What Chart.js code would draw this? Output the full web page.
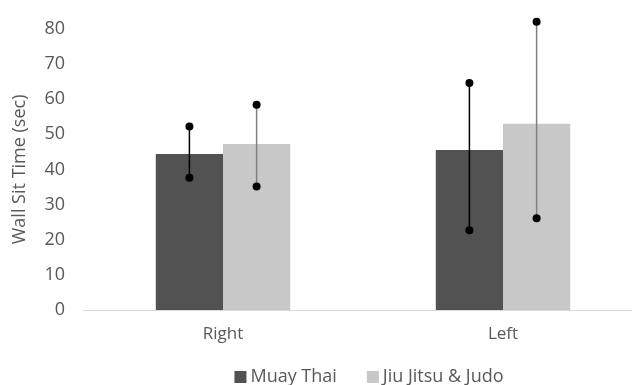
<!DOCTYPE html>
<html lang="en">
<head>
  <meta charset="UTF-8">
  <title>Wall Sit Time by Side</title>
  <script src="https://cdn.jsdelivr.net/npm/chart.js@4.4.1/dist/chart.umd.min.js"></script>
  <style>
    html, body { margin: 0; padding: 0; background: #fff; overflow: hidden; }
    .wrap { width: 643px; height: 385px; position: relative; }
  </style>
</head>
<body>
  <div class="wrap"><canvas id="wallSit" width="643" height="385"></canvas></div>

  <script>
    const sides = ['Right', 'Left'];
    const muayThai = [44.4, 45.5];
    const muayThaiLow = [37.6, 22.7];
    const muayThaiHigh = [52.2, 64.6];
    const jiuJitsu = [47.2, 53.0];
    const jiuJitsuLow = [35.1, 26.1];
    const jiuJitsuHigh = [58.4, 82.0];
    const yTicks = [0, 10, 20, 30, 40, 50, 60, 70, 80];

    const FONT = '"Open Sans", sans-serif';
    const TEXT = '#595959';

    // whiskers with round end caps, one per bar
    const errorBars = {
      id: 'errorBars',
      afterDatasetsDraw(chart) {
        const ctx = chart.ctx;
        const y = chart.scales.y;
        chart.data.datasets.forEach((ds, i) => {
          const meta = chart.getDatasetMeta(i);
          meta.data.forEach((bar, j) => {
            const top = y.getPixelForValue(ds.errHigh[j]);
            const bottom = y.getPixelForValue(ds.errLow[j]);
            ctx.save();
            ctx.strokeStyle = ds.errColor;
            ctx.lineWidth = 1.5;
            ctx.beginPath();
            ctx.moveTo(bar.x, top);
            ctx.lineTo(bar.x, bottom);
            ctx.stroke();
            ctx.fillStyle = '#000';
            [top, bottom].forEach(py => {
              ctx.beginPath();
              ctx.arc(bar.x, py, 4, 0, Math.PI * 2);
              ctx.fill();
            });
            ctx.restore();
          });
        });
      }
    };

    // legend centred under the plot area
    const bottomLegend = {
      id: 'bottomLegend',
      afterDraw(chart) {
        const ctx = chart.ctx;
        const area = chart.chartArea;
        ctx.save();
        ctx.font = '18px ' + FONT;
        ctx.textBaseline = 'middle';
        const box = 12, gap = 4, spacing = 30;
        const items = chart.data.datasets.map(ds => ({
          text: ds.label, color: ds.backgroundColor, w: box + gap + ctx.measureText(ds.label).width
        }));
        const total = items.reduce((s, it) => s + it.w, 0) + spacing * (items.length - 1);
        let x = (area.left + area.right) / 2 - total / 2 + 6;
        const yMid = 377;
        items.forEach(it => {
          ctx.fillStyle = it.color;
          ctx.fillRect(x, yMid - box / 2, box, box);
          ctx.fillStyle = TEXT;
          ctx.fillText(it.text, x + box + gap, yMid);
          x += it.w + spacing;
        });
        ctx.restore();
      }
    };

    new Chart(document.getElementById('wallSit'), {
      type: 'bar',
      data: {
        labels: sides,
        datasets: [{
          label: 'Muay Thai',
          data: muayThai,
          errLow: muayThaiLow,
          errHigh: muayThaiHigh,
          errColor: '#000',
          backgroundColor: '#525252',
          barPercentage: 1,
          categoryPercentage: 0.48
        }, {
          label: 'Jiu Jitsu & Judo',
          data: jiuJitsu,
          errLow: jiuJitsuLow,
          errHigh: jiuJitsuHigh,
          errColor: '#7f7f7f',
          backgroundColor: '#c8c8c8',
          barPercentage: 1,
          categoryPercentage: 0.48
        }]
      },
      options: {
        responsive: false,
        animation: false,
        maintainAspectRatio: false,
        layout: { padding: { top: 25, bottom: 0, left: 0, right: 0 } },
        scales: {
          x: {
            grid: { display: false, drawTicks: false },
            border: { color: '#d9d9d9', width: 1 },
            ticks: { color: TEXT, font: { family: FONT, size: 17 }, padding: 14 },
            afterFit(scale) { scale.height = 75; }
          },
          y: {
            min: 0,
            max: 80,
            grid: { display: false, drawTicks: false },
            border: { display: false },
            afterBuildTicks(scale) { scale.ticks = yTicks.map(v => ({ value: v })); },
            ticks: { color: TEXT, font: { family: FONT, size: 18 }, padding: 18 },
            title: {
              display: true,
              text: 'Wall Sit Time (sec)',
              color: TEXT,
              font: { family: FONT, size: 18 },
              padding: { top: 9, bottom: 0 }
            },
            afterFit(scale) { scale.width = 83; }
          }
        },
        plugins: {
          legend: { display: false },
          tooltip: { enabled: false }
        }
      },
      plugins: [errorBars, bottomLegend]
    });
  </script>
</body>
</html>
